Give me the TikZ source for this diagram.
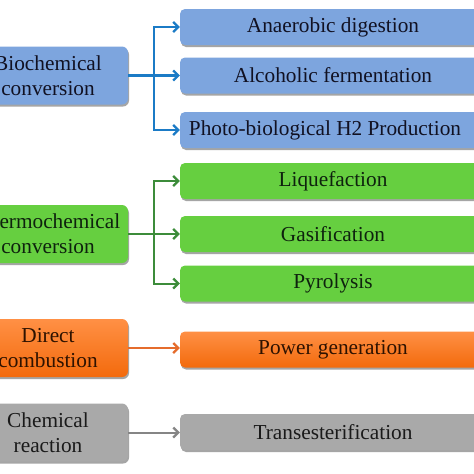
\documentclass[tikz,border=0pt]{standalone}
\usepackage{fontspec}
\setmainfont{Liberation Serif}
\usetikzlibrary{arrows.meta,shadows}
\definecolor{bfill}{HTML}{7DA5DE}
\definecolor{barrow}{HTML}{1B7BC6}
\definecolor{gfill}{HTML}{66CF40}
\definecolor{garrow}{HTML}{3C8C3A}
\definecolor{otop}{HTML}{FF9045}
\definecolor{obot}{HTML}{F36A0C}
\definecolor{oarrow}{HTML}{E56C2C}
\definecolor{yfill}{HTML}{A9A9A9}
\definecolor{yarrow}{HTML}{858585}
\definecolor{btext}{HTML}{111122}
\definecolor{gtext}{HTML}{0E220E}
\definecolor{otext}{HTML}{2E1200}
\definecolor{ytext}{HTML}{1A1A1A}
\tikzset{
  box/.style={rounded corners=6pt, align=center, inner sep=0pt,
    font=\fontsize{21.3}{25}\selectfont,
    drop shadow={shadow xshift=1pt, shadow yshift=-2pt, opacity=0.5, fill=black!70}},
  srcbox/.style={box, minimum width=160pt, minimum height=58pt},
  tgtbox/.style={box, rounded corners=5pt, minimum width=306pt, minimum height=36pt},
  bluebox/.style={fill=bfill, text=btext},
  greenbox/.style={fill=gfill, text=gtext},
  orangebox/.style={top color=otop, bottom color=obot, text=otext},
  graybox/.style={fill=yfill, text=ytext},
  conn/.style={line width=2.3pt},
  tip/.style={-{Straight Barb[length=5pt,width=10pt,line width=2.2pt]}}
}
\begin{document}
\begin{tikzpicture}[x=1pt,y=-1pt]
\useasboundingbox (0,0) rectangle (474,474);
\clip (0,0) rectangle (474,474);
\fill[white] (0,0) rectangle (474,474);

% Blue group
\node[srcbox,bluebox] (bio) at (48,75.5) {Biochemical\\conversion};
\node[tgtbox,bluebox] (ana) at (333,27) {Anaerobic digestion};
\node[tgtbox,bluebox] (alc) at (333,75.5) {Alcoholic fermentation};
\node[tgtbox,bluebox] (pho) at (333,130) {Photo-biological H2 Production\hspace*{16pt}};
\coordinate (bj) at (154,75.5);
\draw[conn,barrow] (bio.east) -- (bj);
\draw[conn,barrow,tip] (bj) |- (ana.west);
\draw[conn,barrow,tip] (bj) -- (alc.west);
\draw[conn,barrow,tip] (bj) |- (pho.west);

% Green group
\node[srcbox,greenbox] (thr) at (48,234) {Thermochemical\\conversion};
\node[tgtbox,greenbox] (liq) at (333,181) {Liquefaction};
\node[tgtbox,greenbox] (gas) at (333,234) {Gasification};
\node[tgtbox,greenbox] (pyr) at (333,283.5) {Pyrolysis};
\coordinate (gj) at (154,234);
\draw[conn,garrow,line width=2pt] (thr.east) -- (gj);
\draw[conn,garrow,line width=2pt,tip] (gj) |- (liq.west);
\draw[conn,garrow,line width=2pt,tip] (gj) -- (gas.west);
\draw[conn,garrow,line width=2pt,tip] (gj) |- (pyr.west);

% Orange group
\node[srcbox,orangebox] (dir) at (48,348) {Direct\\combustion};
\node[tgtbox,orangebox] (pow) at (333,349.5) {Power generation};
\draw[conn,oarrow,line width=2pt,tip] (dir.east) -- (dir.east -| pow.west);

% Gray group
\node[srcbox,graybox] (che) at (48,432.5) {Chemical\\reaction};
\node[tgtbox,graybox] (tra) at (333,432) {Transesterification};
\draw[conn,yarrow,line width=2pt,tip] (che.east) -- (che.east -| tra.west);
\end{tikzpicture}
\end{document}
